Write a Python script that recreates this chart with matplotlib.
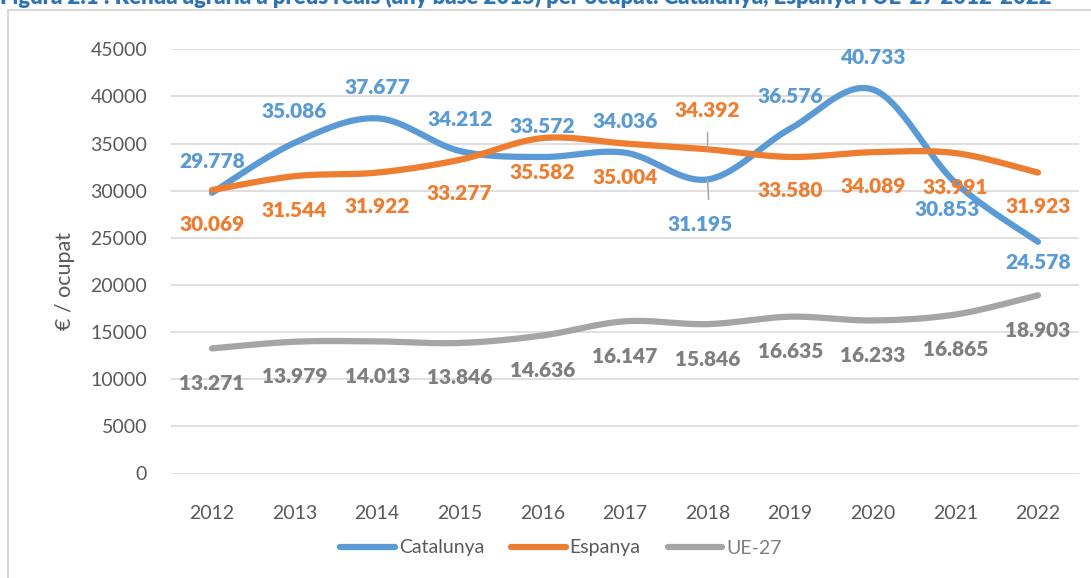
import matplotlib
matplotlib.use("Agg")
import matplotlib.pyplot as plt
import numpy as np

plt.rcParams["font.family"] = ["Lato", "DejaVu Sans"]

# ---------------------------------------------------------------------------
# Data: renda agrària a preus reals per ocupat (€)
# ---------------------------------------------------------------------------
YEARS = ["2012", "2013", "2014", "2015", "2016", "2017",
         "2018", "2019", "2020", "2021", "2022"]

CATALUNYA = [29778, 35086, 37677, 34212, 33572, 34036, 31195, 36576, 40733, 30853, 24578]
ESPANYA   = [30069, 31544, 31922, 33277, 35582, 35004, 34392, 33580, 34089, 33991, 31923]
UE27      = [13271, 13979, 14013, 13846, 14636, 16147, 15846, 16635, 16233, 16865, 18903]

TITLE = ("Figura 2.1 : Renda agrària a preus reals (any base 2015) per ocupat. "
         "Catalunya, Espanya i UE-27 2012-2022")

# label placement, offsets in pixels (dx, dy) -- layout only
CAT_OFF = [(0, 31)] * 6 + [(-8, -45), (0, 32), (0, 32), (-8, -27), (0, -21)]
ESP_OFF = [(0, -34)] * 6 + [(0, 39), (0, -34), (0, -34), (0, -34), (0, -34)]
UE_OFF  = [(0, -35)] * 11

BLUE, ORANGE, GREY = "#5B9BD5", "#ED7D31", "#A5A5A5"


def smooth(y, n=30):
    """Excel-like smoothed line (uniform Catmull-Rom through the points)."""
    p = np.column_stack([np.arange(len(y), dtype=float), np.asarray(y, float)])
    p = np.vstack([p[0], p, p[-1]])
    xs, ys = [], []
    t = np.linspace(0, 1, n)[:, None]
    for i in range(1, len(p) - 2):
        p0, p1, p2, p3 = p[i - 1], p[i], p[i + 1], p[i + 2]
        c1 = p1 + (p2 - p0) / 6
        c2 = p2 - (p3 - p1) / 6
        seg = ((1 - t) ** 3) * p1 + 3 * ((1 - t) ** 2) * t * c1 + 3 * (1 - t) * t ** 2 * c2 + t ** 3 * p2
        xs.append(seg[:, 0])
        ys.append(seg[:, 1])
    return np.concatenate(xs), np.concatenate(ys)


def fmt(v):
    return f"{v:,}".replace(",", ".")


fig = plt.figure(figsize=(10.91, 5.78), dpi=100)
W, H = 1091, 578
ax = fig.add_axes([170.7 / W, 1 - 473.5 / H, 908.6 / W, 424.2 / H])

x = np.arange(len(YEARS))
series = [
    ("Catalunya", CATALUNYA, BLUE, BLUE, CAT_OFF),
    ("Espanya", ESPANYA, ORANGE, ORANGE, ESP_OFF),
    ("UE-27", UE27, GREY, "#7F7F7F", UE_OFF),
]

for name, vals, col, lab_col, offs in series:
    sx, sy = smooth(vals)
    ax.plot(sx, sy, color=col, lw=4.5, solid_capstyle="round", label=name, zorder=3)
    for i, v in enumerate(vals):
        ax.annotate(fmt(v), (x[i], v), xytext=offs[i], textcoords="offset pixels",
                    ha="center", va="center", fontsize=15, fontweight="heavy",
                    color=lab_col, zorder=4)

# leader lines for the 2018 labels
ax.annotate("", (x[6], CATALUNYA[6]), xytext=(1, -20), textcoords="offset pixels",
            arrowprops=dict(arrowstyle="-", color="#A6A6A6", lw=1.1, shrinkA=0, shrinkB=0))
ax.annotate("", (x[6], ESPANYA[6]), xytext=(0, 17), textcoords="offset pixels",
            arrowprops=dict(arrowstyle="-", color="#A6A6A6", lw=1.1, shrinkA=0, shrinkB=0))

ax.set_xlim(-0.5, len(YEARS) - 0.5)
ax.set_ylim(0, 45000)
ax.set_yticks(np.arange(0, 45001, 5000))
ax.set_yticklabels([str(v) for v in range(0, 45001, 5000)])
ax.set_xticks(x)
ax.set_xticklabels(YEARS)
ax.tick_params(axis="both", length=0, labelsize=14, labelcolor="#595959")
ax.tick_params(axis="x", pad=23)
ax.tick_params(axis="y", pad=17)
ax.yaxis.grid(True, color="#D9D9D9", lw=1.2)
ax.set_axisbelow(True)
for s in ax.spines.values():
    s.set_visible(False)

fig.text(65 / W, 1 - 281 / H, "€ / ocupat", rotation=90, ha="center", va="center",
         fontsize=15.5, color="#595959")

leg = fig.legend(loc="center", bbox_to_anchor=(561 / W, 1 - 548 / H), ncol=3,
                 frameon=False, fontsize=14, handlelength=2.8, handletextpad=0.2,
                 columnspacing=1.4)
for t in leg.get_texts():
    t.set_color("#595959")
leg.get_texts()[2].set_color("#7F7F7F")

# chart frame and (cropped) caption
fig.add_artist(plt.Line2D([8 / W, 8 / W], [0, 1 - 10 / H], color="#D9D9D9", lw=1.5))
fig.add_artist(plt.Line2D([8 / W, 1], [1 - 10 / H, 1 - 10 / H], color="#D9D9D9", lw=1.5))
fig.text(0, 1 - 4 / H, TITLE, ha="left", va="baseline", fontsize=15.9,
         fontweight="heavy", color="#2E74B5")

fig.savefig("out.png", dpi=100)
